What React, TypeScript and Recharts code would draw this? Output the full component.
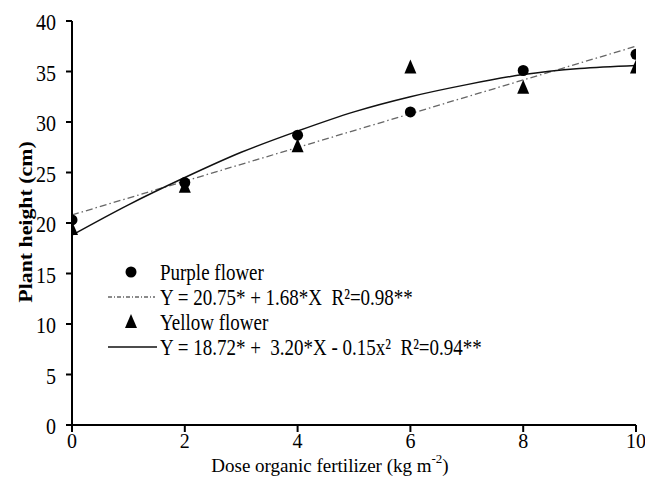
import React from 'react';
import { ComposedChart, Scatter, Line, XAxis, YAxis } from 'recharts';

const doses = [0, 2, 4, 6, 8, 10];
const purpleHeight = [20.3, 24.0, 28.7, 31.0, 35.1, 36.7];
const yellowHeight = [19.4, 23.6, 27.6, 35.4, 33.4, 35.4];
const purpleFitX = [0, 10];
const purpleFitY = [20.8, 37.5];
const yellowFitX = [0, 1, 2, 3, 4, 5, 6, 7, 8, 9, 10];
const yellowFitY = [18.8, 21.8, 24.5, 27.0, 29.1, 31.0, 32.5, 33.7, 34.7, 35.3, 35.6];
const xTicks = [0, 2, 4, 6, 8, 10];
const yTicks = [0, 5, 10, 15, 20, 25, 30, 35, 40];

const purpleLabel = 'Purple flower';
const purpleEq = 'Y = 20.75* + 1.68*X\u00a0 R\u00b2=0.98**';
const yellowLabel = 'Yellow flower';
const yellowEq = 'Y = 18.72* +\u00a0 3.20*X - 0.15x\u00b2\u00a0 R\u00b2=0.94**';

const purpleData = doses.map((d, i) => ({ x: d, y: purpleHeight[i] }));
const yellowData = doses.map((d, i) => ({ x: d, y: yellowHeight[i] }));
const purpleFit = purpleFitX.map((d, i) => ({ x: d, y: purpleFitY[i] }));
const yellowFit = yellowFitX.map((d, i) => ({ x: d, y: yellowFitY[i] }));

const FONT = 'Liberation Serif';
const STRETCH = 1.2;

const CircleShape = (props: any) => <circle cx={props.cx} cy={props.cy} r={5.5} fill="#000" />;
const TriangleShape = (props: any) => {
  const { cx, cy } = props;
  return <polygon points={`${cx},${cy - 8} ${cx - 6},${cy + 6} ${cx + 6},${cy + 6}`} fill="#000" />;
};

const XTick = (props: any) => {
  const { x, y, payload } = props;
  return (
    <text x={x} y={y + 9} textAnchor="middle" dominantBaseline="central" fontFamily={FONT} fontSize={20} fill="#000">
      {payload.value}
    </text>
  );
};

const YTick = (props: any) => {
  const { x, y, payload } = props;
  return (
    <text transform={`translate(${x},${y + 1}) scale(1,${STRETCH})`} textAnchor="end" dominantBaseline="central" fontFamily={FONT} fontSize={20} fill="#000">
      {payload.value}
    </text>
  );
};

const XLabel = (props: any) => {
  const vb = props.viewBox || {};
  const cx = vb.x + vb.width / 2 - 24;
  return (
    <text x={cx} y={465} textAnchor="middle" dominantBaseline="central" fontFamily={FONT} fontSize={19} fill="#000">
      Dose organic fertilizer (kg m<tspan dy={-7} fontSize={13}>-2</tspan><tspan dy={7}>)</tspan>
    </text>
  );
};

const YLabel = () => (
  <text transform={`translate(26,222) rotate(-90) scale(${STRETCH - 0.05},1)`} textAnchor="middle" dominantBaseline="central" fontFamily={FONT} fontSize={19} fontWeight="bold" fill="#000">
    Plant height (cm)
  </text>
);

const rowsY = [272, 297, 322, 347];
const legendText = (s: string, y: number) => (
  <text transform={`translate(160,${y}) scale(1,${STRETCH})`} dominantBaseline="central" fontFamily={FONT} fontSize={19} fill="#000">
    {s}
  </text>
);

export default function App() {
  return (
    <div style={{ position: 'absolute', left: 0, top: 0, width: 645, height: 492, background: '#fff' }}>
      <ComposedChart width={645} height={492} margin={{ top: 21, right: 9, left: 0, bottom: 0 }}>
        <XAxis
          type="number"
          dataKey="x"
          domain={[0, 10]}
          ticks={xTicks}
          height={67}
          tickSize={7}
          tickMargin={0}
          stroke="#000"
          strokeWidth={2}
          tick={<XTick />}
          label={<XLabel />}
          allowDataOverflow
        />
        <YAxis
          type="number"
          dataKey="y"
          domain={[0, 40]}
          ticks={yTicks}
          width={72}
          tickSize={6}
          tickMargin={10}
          stroke="#000"
          strokeWidth={2}
          tick={<YTick />}
          label={<YLabel />}
          allowDataOverflow
        />
        <Line data={purpleFit} dataKey="y" type="linear" stroke="#666" strokeWidth={1.3} strokeDasharray="7 3 1.5 3" dot={false} isAnimationActive={false} />
        <Line data={yellowFit} dataKey="y" type="monotone" stroke="#111" strokeWidth={1.5} dot={false} isAnimationActive={false} />
        <Scatter data={purpleData} dataKey="y" shape={<CircleShape />} isAnimationActive={false} />
        <Scatter data={yellowData} dataKey="y" shape={<TriangleShape />} isAnimationActive={false} />
      </ComposedChart>
      <svg width={645} height={492} style={{ position: 'absolute', left: 0, top: 0, pointerEvents: 'none' }}>
        <circle cx={131} cy={rowsY[0]} r={5.5} fill="#000" />
        {legendText(purpleLabel, rowsY[0])}
        <line x1={108} y1={rowsY[1]} x2={155} y2={rowsY[1]} stroke="#666" strokeWidth={1.3} strokeDasharray="4 2 1 2" />
        {legendText(purpleEq, rowsY[1])}
        <polygon points={`131,${rowsY[2] - 8} 125,${rowsY[2] + 6} 137,${rowsY[2] + 6}`} fill="#000" />
        {legendText(yellowLabel, rowsY[2])}
        <line x1={108} y1={rowsY[3]} x2={157} y2={rowsY[3]} stroke="#111" strokeWidth={1.5} />
        {legendText(yellowEq, rowsY[3])}
      </svg>
    </div>
  );
}
